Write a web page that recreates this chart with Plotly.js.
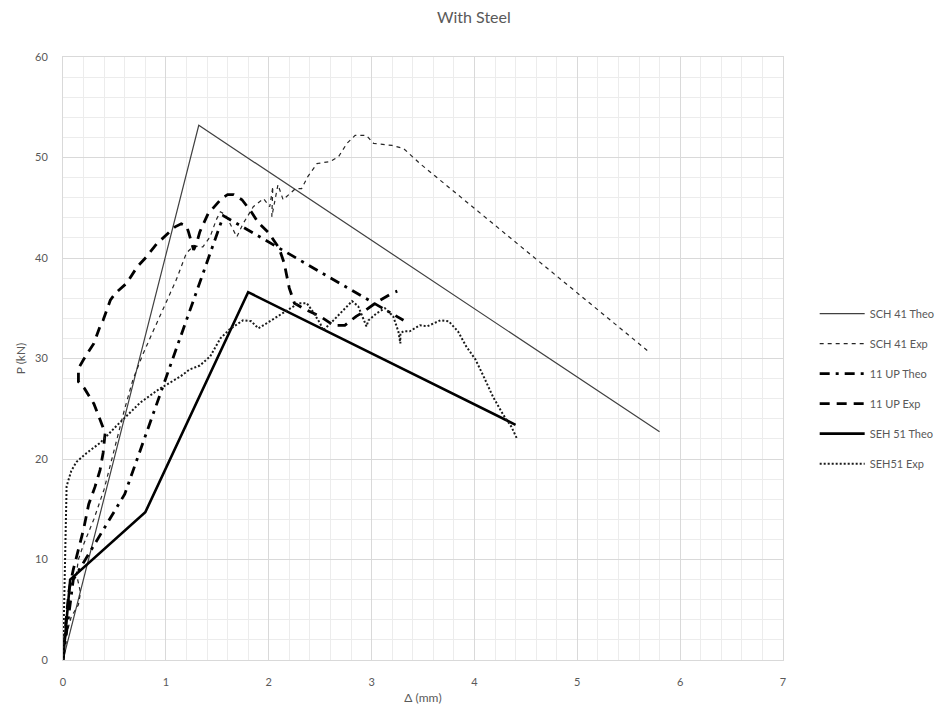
<!DOCTYPE html>
<html>
<head>
<meta charset="utf-8">
<script src="https://cdn.plot.ly/plotly-3.0.1.min.js"></script>
<style>html,body{margin:0;padding:0;background:#fff;}#chart{width:944px;height:713px;}</style>
</head>
<body>
<div id="chart"></div>
<script>
// SCH 41 Theo
const sch41TheoX = [0, 1.32, 5.8];
const sch41TheoY = [0, 53.2, 22.7];
// SCH 41 Exp
const sch41ExpX = [0, 0.02, 0.08, 0.15, 0.17, 0.13, 0.15, 0.2, 0.3, 0.4, 0.5, 0.6, 0.68, 0.78, 0.88, 1.0, 1.1, 1.2, 1.27, 1.36, 1.43, 1.49, 1.53, 1.58, 1.66, 1.69, 1.75, 1.85, 1.95, 2.01, 2.04, 2.03, 2.09, 2.14, 2.26, 2.32, 2.38, 2.47, 2.6, 2.68, 2.76, 2.84, 2.95, 3.02, 3.2, 3.31, 3.47, 5.68];
const sch41ExpY = [0, 2, 4.3, 5.5, 6.7, 8.6, 10, 11.5, 14, 17, 21, 25, 27.9, 30.5, 32.8, 35.5, 37.8, 40.5, 41.2, 41.1, 42.1, 43.8, 44.6, 44.3, 42.8, 42.1, 43.4, 45.1, 45.9, 45.1, 47.1, 44.1, 47.3, 45.8, 46.9, 46.9, 48.1, 49.4, 49.6, 50.1, 51.4, 52.2, 52.2, 51.4, 51.2, 50.9, 49.4, 30.8];
// 11 UP Theo
const up11TheoX = [0, 0.1, 0.6, 1.56, 3.31];
const up11TheoY = [0, 8, 16.5, 44.2, 33.8];
// 11 UP Exp
const up11ExpX = [0, 0.03, 0.06, 0.1, 0.15, 0.2, 0.25, 0.31, 0.36, 0.39, 0.41, 0.36, 0.3, 0.21, 0.15, 0.15, 0.2, 0.3, 0.36, 0.39, 0.46, 0.51, 0.62, 0.72, 0.81, 0.91, 1.01, 1.09, 1.15, 1.2, 1.22, 1.25, 1.27, 1.3, 1.33, 1.41, 1.54, 1.6, 1.66, 1.74, 1.83, 1.9, 2.0, 2.1, 2.15, 2.2, 2.25, 2.35, 2.5, 2.63, 2.74, 2.85, 2.9, 3.05, 3.2, 3.25];
const up11ExpY = [0, 4, 7, 9, 11, 13, 15.5, 17.2, 18.9, 20.6, 22.6, 23.9, 25.5, 27.0, 27.7, 29.0, 29.9, 31.5, 33.2, 33.8, 35.8, 36.5, 37.5, 39.1, 40.1, 41.4, 42.3, 43.1, 43.4, 43.2, 42.6, 41.4, 40.8, 41.5, 42.6, 44.4, 45.9, 46.3, 46.3, 45.8, 44.6, 43.5, 42.5, 41.0, 39.5, 37.0, 35.5, 34.9, 34.2, 33.3, 33.3, 34.2, 34.5, 35.6, 36.5, 36.7];
// SEH 51 Theo
const seh51TheoX = [0, 0.07, 0.8, 1.8, 4.4];
const seh51TheoY = [0, 8, 14.7, 36.6, 23.4];
// SEH51 Exp
const seh51ExpX = [0, 0.01, 0.02, 0.025, 0.035, 0.08, 0.13, 0.23, 0.36, 0.52, 0.75, 0.94, 1.14, 1.23, 1.33, 1.43, 1.53, 1.62, 1.75, 1.83, 1.9, 2.01, 2.14, 2.29, 2.37, 2.42, 2.5, 2.53, 2.63, 2.72, 2.81, 2.87, 2.92, 2.95, 2.97, 3.05, 3.13, 3.21, 3.26, 3.28, 3.28, 3.31, 3.37, 3.47, 3.54, 3.67, 3.75, 3.84, 3.92, 4.01, 4.09, 4.18, 4.28, 4.36, 4.41];
const seh51ExpY = [0, 5, 10, 15, 17.3, 18.8, 19.7, 20.6, 21.6, 23.3, 25.6, 27.0, 28.2, 28.9, 29.3, 30.2, 32.0, 32.9, 33.8, 33.7, 33.0, 33.7, 34.5, 35.5, 35.5, 34.8, 33.5, 32.8, 33.8, 34.8, 35.7, 35.2, 34.0, 33.2, 33.8, 34.5, 35.0, 34.2, 32.7, 31.5, 32.5, 32.7, 32.7, 33.3, 33.2, 33.8, 33.7, 32.7, 31.2, 29.9, 28.2, 26.2, 24.4, 23.2, 22.1];

const seriesNames = ["SCH 41 Theo", "SCH 41 Exp", "11 UP Theo", "11 UP Exp", "SEH 51 Theo", "SEH51 Exp"];

const traces = [
  {x: sch41TheoX, y: sch41TheoY, name: seriesNames[0], line: {color: '#404040', width: 1.2}},
  {x: sch41ExpX, y: sch41ExpY, name: seriesNames[1], line: {color: '#262626', width: 1.2, dash: '4px,4px'}},
  {x: up11TheoX, y: up11TheoY, name: seriesNames[2], line: {color: '#000000', width: 2.8, dash: '10px,6px,3px,6px'}},
  {x: up11ExpX, y: up11ExpY, name: seriesNames[3], line: {color: '#000000', width: 2.8, dash: '10px,7px'}},
  {x: seh51TheoX, y: seh51TheoY, name: seriesNames[4], line: {color: '#000000', width: 2.6}},
  {x: seh51ExpX, y: seh51ExpY, name: seriesNames[5], line: {color: '#1a1a1a', width: 2, dash: '2px,2px'}}
].map((t, i) => Object.assign({type: 'scatter', mode: 'lines', legendgroup: 'g' + i, hoverinfo: 'skip'}, t));

const fontFam = 'Lato, "Open Sans", sans-serif';
const layout = {
  width: 944, height: 713,
  margin: {l: 63, r: 161, t: 57, b: 53, autoexpand: false},
  paper_bgcolor: '#ffffff', plot_bgcolor: '#ffffff',
  font: {family: fontFam, color: '#595959', size: 11},
  title: {text: 'With Steel', x: 0.502, xanchor: 'center', y: 0.975, yanchor: 'middle', font: {family: fontFam, size: 16, color: '#595959'}},
  xaxis: {
    range: [0, 7], dtick: 1, tick0: 0, showgrid: true, gridcolor: '#d9d9d9', gridwidth: 1,
    minor: {dtick: 0.2, showgrid: true, gridcolor: '#ececec', gridwidth: 1},
    zeroline: false, showline: true, linecolor: '#d9d9d9', mirror: true, ticks: '',
    ticklabelstandoff: 12,
    tickfont: {size: 11, color: '#595959'},
    title: {text: 'Δ (mm)', standoff: 6, font: {size: 12, color: '#595959'}}
  },
  yaxis: {
    range: [0, 60], dtick: 10, tick0: 0, showgrid: true, gridcolor: '#d9d9d9', gridwidth: 1,
    minor: {dtick: 2, showgrid: true, gridcolor: '#ececec', gridwidth: 1},
    zeroline: false, showline: true, linecolor: '#d9d9d9', mirror: true, ticks: '',
    ticklabelstandoff: 12,
    tickfont: {size: 11, color: '#595959'},
    title: {text: 'P (kN)', standoff: 6, font: {size: 12, color: '#595959'}}
  },
  showlegend: true,
  legend: {
    x: 1.044, xanchor: 'left', y: 0.45, yanchor: 'middle',
    font: {size: 11, color: '#595959', family: fontFam},
    itemwidth: 45,
    tracegroupgap: 11, traceorder: 'grouped', bgcolor: 'rgba(0,0,0,0)'
  }
};

Plotly.newPlot('chart', traces, layout, {staticPlot: true, displayModeBar: false});
</script>
</body>
</html>
